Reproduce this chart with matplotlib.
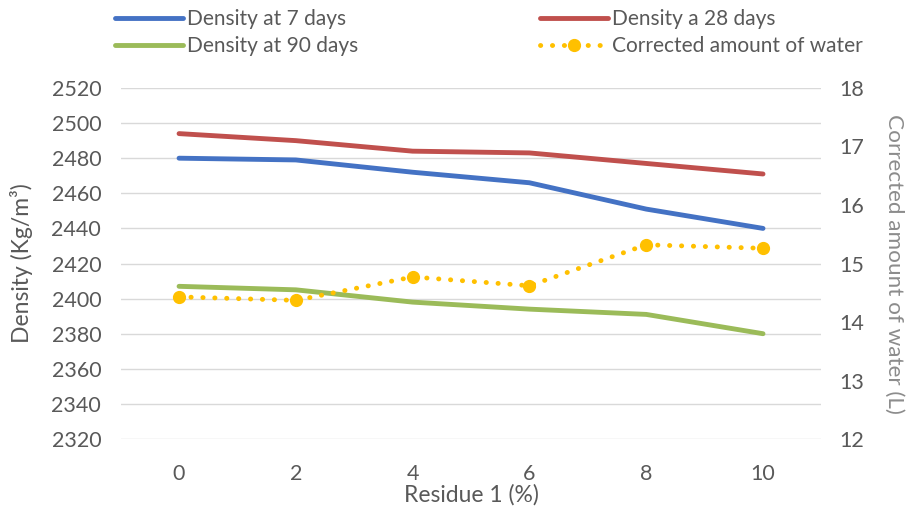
import numpy as np
import matplotlib.pyplot as plt

plt.rcParams['font.family'] = ['Lato', 'DejaVu Sans']

residue = [0, 2, 4, 6, 8, 10]
density_7 = [2480, 2479, 2472, 2466, 2451, 2440]
density_28 = [2494, 2490, 2484, 2483, 2477, 2471]
density_90 = [2407, 2405, 2398, 2394, 2391, 2380]
water = [14.43, 14.37, 14.77, 14.62, 15.32, 15.26]

grey = '#595959'

fig = plt.figure(figsize=(9.14, 5.13), dpi=100)
ax = fig.add_axes([0.132, 0.1442, 0.7667, 0.6843])
ax2 = ax.twinx()

l1, = ax.plot(residue, density_7, color='#4472C4', lw=3.5, solid_capstyle='round', label='Density at 7 days')
l2, = ax.plot(residue, density_28, color='#C0504D', lw=3.5, solid_capstyle='round', label='Density a 28 days')
l3, = ax.plot(residue, density_90, color='#9BBB59', lw=3.5, solid_capstyle='round', label='Density at 90 days')
l4, = ax2.plot(residue, water, color='#FFC000', lw=3.5, ls=(0, (0.05, 2.4)), dash_capstyle='round',
               marker='o', ms=8.5, mec='#FFC000', mfc='#FFC000', label='Corrected amount of water')

ax.set_xlim(-1, 11)
ax.set_ylim(2320, 2520)
ax.set_yticks(np.arange(2320, 2521, 20))
ax2.set_ylim(12, 18)
ax2.set_yticks(np.arange(12, 19, 1))
ax.set_xticks(residue)

ax.grid(axis='y', color='#d9d9d9', lw=1)
ax.set_axisbelow(True)
for a in (ax, ax2):
    for s in a.spines.values():
        s.set_visible(False)
    a.tick_params(length=0, labelsize=15.5, colors=grey)
ax.tick_params(axis='x', pad=18)
ax.tick_params(axis='y', pad=14)
ax2.tick_params(axis='y', pad=13)

ax.set_xlabel('Residue 1 (%)', fontsize=16.5, color=grey, labelpad=0)
ax.set_ylabel('Density (Kg/m³)', fontsize=16.5, color=grey, labelpad=13)
ax2.set_ylabel('Corrected amount of water (L)', fontsize=16.2, color='#8c8c8c', rotation=-90, labelpad=29)

fig.legend(handles=[l1, l3, l2, l4], ncol=2, loc='upper left', bbox_to_anchor=(115 / 914, 1 - 9 / 513),
           frameon=False, fontsize=15, labelcolor=grey, handlelength=3.27, columnspacing=8.7,
           handletextpad=0.2, labelspacing=0.35, borderpad=0, borderaxespad=0)

plt.savefig('out.png', dpi=100)
